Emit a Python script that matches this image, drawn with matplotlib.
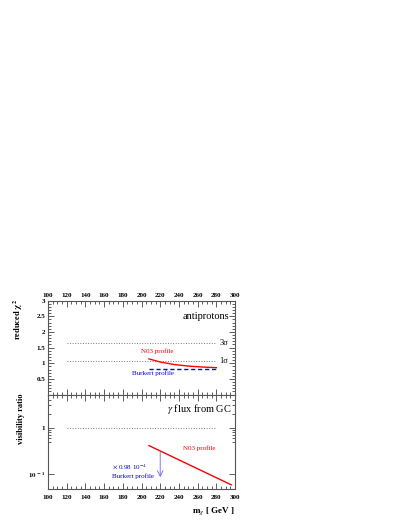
import numpy as np
import matplotlib.pyplot as plt
from matplotlib.ticker import MultipleLocator, FixedLocator, NullFormatter

plt.rcParams['font.family'] = ['Liberation Serif', 'DejaVu Serif']
plt.rcParams['mathtext.fontset'] = 'stix'

# antiprotons panel
sigma_lvl = [1.07, 1.65]
sigma_lab = ["1σ", "3σ"]
mass_n03 = [208, 220, 235, 250, 265, 280]
chi2_n03 = [1.14, 1.04, 0.96, 0.91, 0.88, 0.86]
mass_bur = [208, 280]
chi2_bur = [0.82, 0.82]

# gamma panel
mass_g = [208, 296]
vis_n03 = [0.41, 0.059]
arrow_m = 220
arrow_from = 0.34
arrow_to = 0.075

fig = plt.figure(figsize=(4.07, 5.27), dpi=100)
W, H = 407, 527
x0, x1 = 48, 235
ax1 = fig.add_axes([x0 / W, 1 - 394.6 / H, (x1 - x0) / W, 94 / H])
ax2 = fig.add_axes([x0 / W, 1 - 489 / H, (x1 - x0) / W, 94.4 / H])

tickfont = dict(fontsize=5, fontweight='bold')
for ax in (ax1, ax2):
    ax.set_xlim(100, 300)
    ax.xaxis.set_major_locator(MultipleLocator(20))
    ax.xaxis.set_minor_locator(MultipleLocator(5))
    ax.tick_params(which='both', direction='in', top=True, right=True,
                   colors='#444444', width=0.6, labelcolor='black', pad=2)
    ax.tick_params(which='major', length=4)
    ax.tick_params(which='minor', length=2)
    for s in ax.spines.values():
        s.set_color('#555555')
        s.set_linewidth(0.8)

# top panel
ax1.set_ylim(0, 3)
ax1.yaxis.set_major_locator(FixedLocator([0.5, 1, 1.5, 2, 2.5, 3]))
ax1.yaxis.set_minor_locator(MultipleLocator(0.1))
ax1.tick_params(labeltop=True, labelbottom=False)
ax1.set_xticks(np.arange(100, 301, 20))
ax1.set_xticklabels([str(v) for v in range(100, 301, 20)], **tickfont)
ax1.set_yticklabels(["0.5", "1", "1.5", "2", "2.5", "3"], **tickfont)
for lv, lb in zip(sigma_lvl, sigma_lab):
    ax1.plot([120, 280], [lv, lv], ls=':', color='#777777', lw=0.7)
    ax1.text(283, lv, lb, fontsize=6, va='center', ha='left')
ax1.plot(mass_n03, chi2_n03, color='red', lw=1.0)
ax1.plot(mass_bur, chi2_bur, color='blue', lw=1.0, ls=(0, (3, 2)))
ax1.text(217, 1.37, "N03 profile", color='red', fontsize=5, ha='center', va='center')
ax1.text(212, 0.69, "Burkert profile", color='blue', fontsize=5, ha='center', va='center')
ax1.text(294, 2.48, "antiprotons", fontsize=7.5, ha='right', va='center')
ax1.set_ylabel(r"reduced $\mathbf{\chi^2}$", fontsize=6, fontweight='bold')
ax1.yaxis.set_label_coords(-0.122, 0.80)

# bottom panel
ax2.set_yscale('log')
ax2.set_ylim(0.048, 5.1)
ax2.yaxis.set_major_locator(FixedLocator([0.1, 1]))
ax2.yaxis.set_minor_locator(FixedLocator([k * 0.1 for k in range(5, 10)] +
                                         [float(k) for k in range(2, 6)]))
ax2.yaxis.set_minor_formatter(NullFormatter())
ax2.set_yticklabels([r"$\mathbf{10^{\ -1}}$", "1"], **tickfont)
ax2.set_xticks(np.arange(100, 301, 20))
ax2.set_xticklabels([str(v) for v in range(100, 301, 20)], **tickfont)
ax2.tick_params(axis='x', which='major', pad=4)
ax2.plot([120, 280], [1, 1], ls=':', color='#777777', lw=0.7)
ax2.plot(mass_g, vis_n03, color='red', lw=1.0)
ax2.text(262, 0.36, "N03 profile", color='red', fontsize=5, ha='center', va='center')
ax2.annotate("", xy=(arrow_m, arrow_to), xytext=(arrow_m, arrow_from),
             arrowprops=dict(arrowstyle='->', color='#6666ff', lw=0.6))
ax2.text(168, 0.145, r"$\times$ 0.98 10$^{-4}$", color='blue', fontsize=5, ha='left', va='center')
ax2.text(168, 0.092, "Burkert profile", color='blue', fontsize=5, ha='left', va='center')
ax2.text(297, 2.5, r"$\gamma$ flux from GC", fontsize=7.5, ha='right', va='center')
ax2.set_ylabel("visibility ratio", fontsize=6, fontweight='bold')
ax2.yaxis.set_label_coords(-0.122, 0.74)
ax2.set_xlabel(r"m$_\chi$ [ GeV ]", fontsize=6.5, fontweight='bold')
ax2.xaxis.set_label_coords(1.0, -0.17)
ax2.xaxis.label.set_ha('right')

fig.savefig("out.png", dpi=100)
